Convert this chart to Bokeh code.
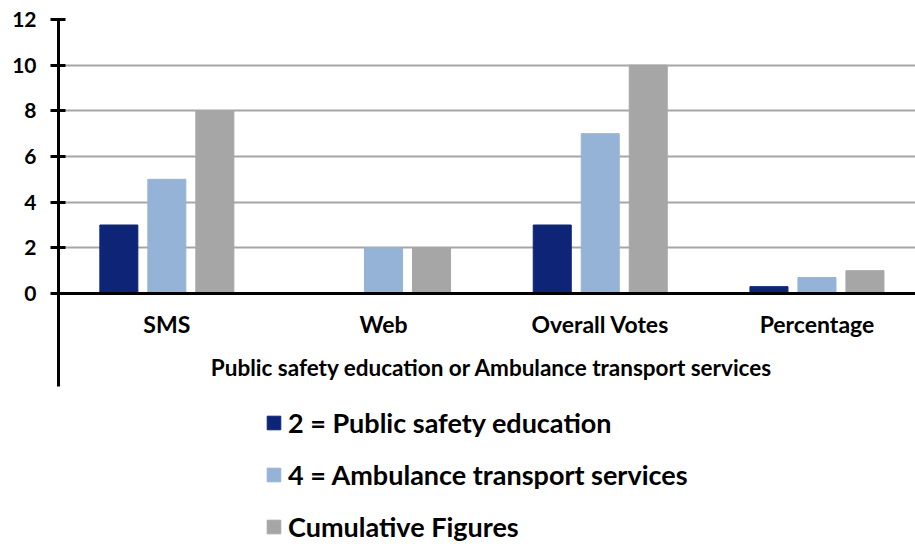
from bokeh.plotting import figure
from bokeh.models import ColumnDataSource, Range1d, FixedTicker, Span, Label, Legend, LegendItem
from bokeh.transform import dodge
from bokeh.core.properties import value
from bokeh.embed import file_html
from bokeh.resources import INLINE

categories = ["SMS", "Web", "Overall Votes", "Percentage"]
public_safety = [3, 0, 3, 0.3]
ambulance = [5, 2, 7, 0.7]
cumulative = [8, 2, 10, 1]
series_names = ["2 = Public safety education", "4 = Ambulance transport services", "Cumulative Figures"]
y_ticks = [0, 2, 4, 6, 8, 10, 12]
x_title = "Public safety education or Ambulance transport services"

colors = ["#0e2577", "#95b3d7", "#a6a6a6"]
FONT = "Lato"

xs = list(range(len(categories)))
src = ColumnDataSource(dict(x=xs, a=public_safety, b=ambulance, c=cumulative, cat=categories))

unit_x = 216.7
unit_y = 274 / 12
frame_w = 857
frame_h = 523
p = figure(frame_width=frame_w, frame_height=frame_h, output_backend="svg", toolbar_location=None,
           x_range=Range1d(-0.5, -0.5 + frame_w / unit_x),
           y_range=Range1d(12 - frame_h / unit_y, 12),
           x_axis_location=None, min_border_left=58, min_border_right=0, min_border_top=19,
           min_border_bottom=0)
p.outline_line_color = None
p.xgrid.visible = False
p.ygrid.ticker = FixedTicker(ticks=y_ticks)
p.ygrid.grid_line_color = "#a6a6a6"
p.ygrid.grid_line_width = 2

ax = p.yaxis[0]
ax.ticker = FixedTicker(ticks=y_ticks)
ax.bounds = (-4.07, 12)
ax.axis_line_color = "black"
ax.axis_line_width = 3
ax.major_tick_line_color = "black"
ax.major_tick_line_width = 3
ax.major_tick_in = 7
ax.major_tick_out = 8
ax.minor_tick_line_color = None
ax.major_label_text_font = FONT
ax.major_label_text_font_style = "bold"
ax.major_label_text_font_size = "21px"
ax.major_label_text_color = "black"
ax.major_label_standoff = 14

off = 0.2215
bw = 0.1754
r1 = p.vbar(x=dodge("x", -off, range=p.x_range), top="a", width=bw, source=src, color=colors[0])
r2 = p.vbar(x=dodge("x", 0, range=p.x_range), top="b", width=bw, source=src, color=colors[1])
r3 = p.vbar(x=dodge("x", off, range=p.x_range), top="c", width=bw, source=src, color=colors[2])

p.add_layout(Span(location=0, dimension="width", line_color="black", line_width=3))

p.text(x="x", y=-1.32, text="cat", source=src, text_font=value(FONT), text_font_style="bold",
       text_font_size="23px", text_align="center", text_baseline="middle", text_color="black")
p.add_layout(Label(x=1.5, y=-3.25, text=x_title, text_font=FONT, text_font_style="bold",
                   text_font_size="22.5px", text_align="center", text_baseline="middle",
                   text_color="black"))

legend = Legend(items=[LegendItem(label=series_names[0], renderers=[r1]),
                       LegendItem(label=series_names[1], renderers=[r2]),
                       LegendItem(label=series_names[2], renderers=[r3])],
                location=(207, -1), orientation="vertical")
legend.label_text_font = FONT
legend.label_text_font_style = "bold"
legend.label_text_font_size = "27px"
legend.label_text_color = "black"
legend.glyph_width = 17
legend.glyph_height = 17
legend.label_height = 32
legend.label_standoff = 6
legend.spacing = 19
legend.padding = 0
legend.margin = 0
legend.border_line_color = None
legend.background_fill_alpha = 0
p.add_layout(legend, "center")

open("out.html", "w").write(file_html(p, INLINE))
